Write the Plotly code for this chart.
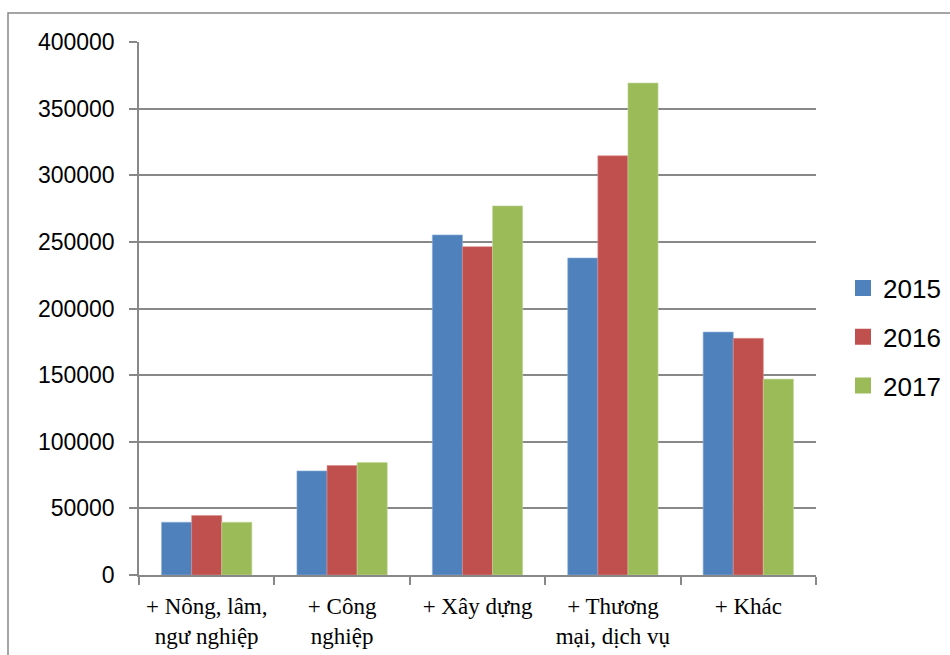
import plotly.graph_objects as go

categories = ["+ Nông, lâm,<br>ngư nghiệp", "+ Công<br>nghiệp", "+ Xây dựng",
              "+ Thương<br>mại, dịch vụ", "+ Khác"]
years = ["2015", "2016", "2017"]
v2015 = [39600, 78100, 255200, 237900, 182300]
v2016 = [44600, 82200, 246400, 314600, 177600]
v2017 = [39600, 84400, 277000, 369200, 147000]
colors = ["#4F81BD", "#C0504D", "#9BBB59"]
edge = ["#8fb0d8", "#d98d8b", "#c3d89e"]

fig = go.Figure()
for name, vals, c, e in zip(years, [v2015, v2016, v2017], colors, edge):
    fig.add_trace(go.Bar(x=categories, y=vals, name=name, showlegend=False,
                         marker=dict(color=c, line=dict(color=e, width=0.6))))
# legend entries with larger square swatches
for name, c in zip(years, colors):
    fig.add_trace(go.Scatter(x=[None], y=[None], mode="markers", name=name,
                             legendgroup=name,
                             marker=dict(symbol="square", size=16, color=c)))

L, R, T, B = 139, 816, 42, 575
W, H = 950, 655
pw, ph = R - L, B - T

fig.update_layout(
    width=W, height=H,
    margin=dict(l=L, r=W - R, t=T, b=H - B, pad=0, autoexpand=False),
    paper_bgcolor="white", plot_bgcolor="white",
    barmode="group", bargap=0.333, bargroupgap=0,
    legend=dict(xref="container", yref="container", x=843 / W, y=1 - 337 / H,
                xanchor="left", yanchor="middle",
                font=dict(family="Liberation Sans, Arial", size=26, color="black"),
                tracegroupgap=12, traceorder="grouped", itemwidth=30,
                bgcolor="rgba(0,0,0,0)"),
    font=dict(family="Liberation Sans, Arial", color="black"),
    showlegend=True,
)
fig.update_xaxes(
    showline=True, linecolor="#888888", linewidth=1.5,
    ticks="outside", tickson="boundaries", ticklen=8, tickcolor="#888888", tickwidth=1.5,
    tickfont=dict(family="Liberation Serif, Times New Roman", size=23, color="black"),
    showgrid=False, fixedrange=True, ticklabelstandoff=10, automargin=False,
)
fig.update_yaxes(
    range=[0, 400000], dtick=50000, tickformat="d",
    showline=True, linecolor="#888888", linewidth=1.5,
    ticks="outside", ticklen=8, tickcolor="#888888", tickwidth=1.5,
    showgrid=True, gridcolor="#888888", gridwidth=1.5,
    tickfont=dict(family="Liberation Sans, Arial", size=23, color="black"),
    ticklabelstandoff=10, zeroline=False, automargin=False,
)
# outer chart frame (left and top edges)
x0 = (8 - L) / pw
y0 = 1 + (T - 13) / ph
fig.add_shape(type="path", xref="paper", yref="paper",
              path=f"M {x0} {-(H - B + 10) / ph} L {x0} {y0} L {1 + (W - R + 10) / pw} {y0}",
              line=dict(color="#888888", width=1.5))

fig.write_html("out.html")
